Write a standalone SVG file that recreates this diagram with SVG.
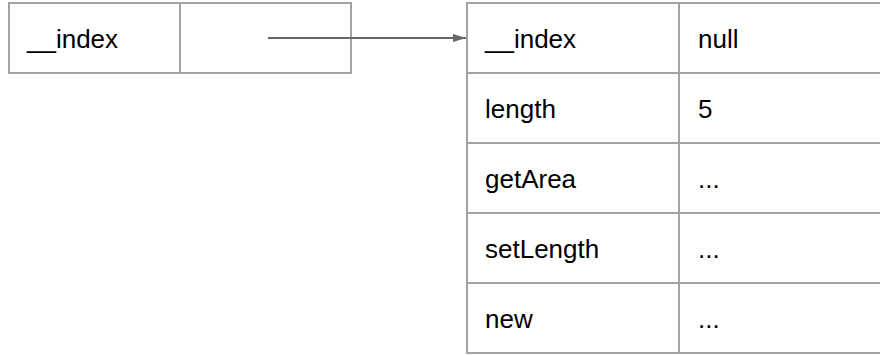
<svg xmlns="http://www.w3.org/2000/svg" width="880" height="355" viewBox="0 0 880 355">
<style>
.cell{fill:#ffffff;stroke:#a3a3a3;stroke-width:2}
.div{stroke:#a3a3a3;stroke-width:2;fill:none}
.t{font-family:"Liberation Sans",Arial,sans-serif;font-size:26px;fill:#000000}
.conn{stroke:#666666;stroke-width:2;fill:none}
</style>
<defs>
<marker id="ah" markerWidth="13" markerHeight="8" refX="13" refY="4" orient="auto" markerUnits="userSpaceOnUse">
<path d="M0,0 L13,4 L0,8 Z" fill="#666666"/>
</marker>
</defs>
<g id="obj">
<rect class="cell" x="9" y="3" width="342" height="70"/>
<line class="div" x1="180" y1="3" x2="180" y2="73"/>
<text class="t" x="27" y="48">__index</text>
</g>
<g id="meta">
<rect class="cell" x="467" y="3" width="430" height="350"/>
<line class="div" x1="679" y1="3" x2="679" y2="353"/>
<line class="div" x1="467" y1="73" x2="897" y2="73"/>
<line class="div" x1="467" y1="143" x2="897" y2="143"/>
<line class="div" x1="467" y1="213" x2="897" y2="213"/>
<line class="div" x1="467" y1="283" x2="897" y2="283"/>
<text class="t" x="485" y="48">__index</text>
<text class="t" x="698" y="48">null</text>
<text class="t" x="485" y="118">length</text>
<text class="t" x="698" y="118">5</text>
<text class="t" x="485" y="188">getArea</text>
<text class="t" x="698" y="188">...</text>
<text class="t" x="485" y="258">setLength</text>
<text class="t" x="698" y="258">...</text>
<text class="t" x="485" y="328">new</text>
<text class="t" x="698" y="328">...</text>
</g>
<g id="connectors">
<line class="conn" x1="268" y1="38" x2="466" y2="38" marker-end="url(#ah)"/>
</g>
</svg>
